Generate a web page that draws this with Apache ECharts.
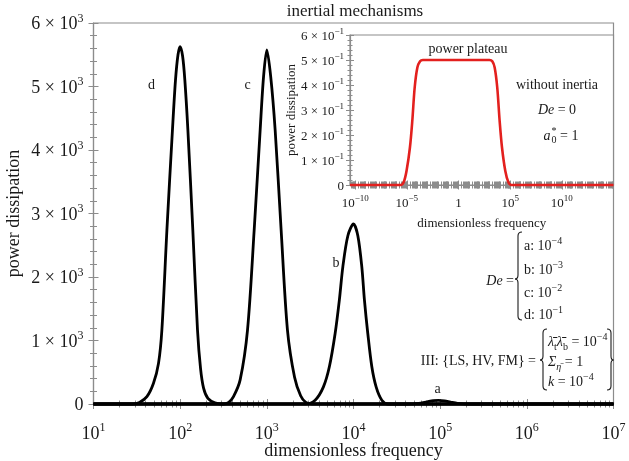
<!DOCTYPE html>
<html><head><meta charset="utf-8">
<script src="https://cdn.jsdelivr.net/npm/echarts@6/dist/echarts.min.js"></script>
<style>html,body{margin:0;padding:0;background:#fff}#c{width:629px;height:461px}</style>
</head><body><div id="c"></div>
<script>
// Main chart: x = log10(dimensionless frequency), y = power dissipation
const logF_a = [1.0, 4.6, 4.75, 4.85, 4.92, 4.98, 5.05, 5.12, 5.2, 5.35, 7.0];
const pow_a  = [0, 0, 10, 35, 52, 57, 50, 30, 10, 0, 0];
const logF_b = [1.0, 3.45, 3.557, 3.653, 3.722, 3.788, 3.837, 3.877, 3.935, 4.0, 4.05, 4.096, 4.126, 4.165, 4.211, 4.261, 4.327, 4.40, 7.0];
const pow_b  = [0, 0, 60, 270, 590, 1110, 1640, 2160, 2650, 2835, 2650, 2160, 1640, 1110, 590, 270, 60, 0, 0];
const logF_c = [1.0, 2.5, 2.56, 2.615, 2.692, 2.777, 2.854, 2.923, 2.962, 3.0, 3.045, 3.096, 3.165, 3.238, 3.32, 3.39, 3.45, 3.52, 7.0];
const pow_c  = [0, 0, 25, 115, 380, 1165, 2740, 4315, 5150, 5575, 5150, 4315, 2740, 1165, 420, 130, 25, 0, 0];
const logF_d = [1.0, 1.45, 1.53, 1.616, 1.692, 1.75, 1.789, 1.847, 1.911, 1.946, 1.975, 2.0, 2.028, 2.054, 2.089, 2.146, 2.2, 2.235, 2.27, 2.32, 2.40, 2.48, 7.0];
const pow_d  = [0, 0, 25, 115, 326, 640, 1165, 2740, 4315, 5100, 5500, 5627, 5480, 5100, 4315, 2740, 1165, 560, 250, 90, 20, 0, 0];
// Inset: without inertia
const logF_in = [-10.5, -5.6, -5.3, -5.03, -4.7, -4.47, -4.24, -3.98, -3.72, -3.45, 0, 3.0, 3.27, 3.5, 3.75, 3.98, 4.21, 4.53, 4.82, 5.12, 15];
const pow_in  = [0, 0, 0.012, 0.056, 0.15, 0.257, 0.39, 0.47, 0.495, 0.5, 0.5, 0.5, 0.495, 0.47, 0.39, 0.257, 0.15, 0.056, 0.012, 0, 0];
// Tick values / labels
const mainXTicks = [1, 2, 3, 4, 5, 6, 7];          // exponents of 10
const mainYTicks = [0, 1000, 2000, 3000, 4000, 5000, 6000];
const insetXTicks = [-10, -5, 0, 5, 10];
const insetYTicks = [0, 0.1, 0.2, 0.3, 0.4, 0.5, 0.6];
const curveLetters = ['a', 'b', 'c', 'd'];

const F = '"Liberation Serif", "Times New Roman", serif';
const TXT = '#1a1a1a';
const AX = '#8c8c8c';

function zip(xs, ys) { return xs.map((x, i) => [x, ys[i]]); }
function minorLog(lo, hi) {
  const out = [];
  for (let n = Math.floor(lo) - 1; n <= Math.ceil(hi); n++) {
    for (let k = 2; k <= 9; k++) { const v = n + Math.log10(k); if (v >= lo && v <= hi) out.push(v); }
  }
  return out;
}
function decades(lo, hi) { const o = []; for (let n = Math.ceil(lo); n <= hi; n++) o.push(n); return o; }
function linMinor(lo, hi, step, skip) {
  const o = []; const n = Math.round((hi - lo) / step);
  for (let i = 0; i <= n; i++) { const v = +(lo + i * step).toFixed(6); if (!skip.some(s => Math.abs(s - v) < 1e-9)) o.push(v); }
  return o;
}
function richSet(fs, ss) {
  return {
    b: { fontFamily: F, fontSize: fs, color: TXT, verticalAlign: 'bottom', lineHeight: fs + 3 },
    s: { fontFamily: F, fontSize: ss, color: TXT, verticalAlign: 'top', lineHeight: ss }
  };
}
function sup(n) { return n < 0 ? '\u2212' + (-n) : String(n); }

function axes(dim, gi, min, max, sets, main) {
  return sets.map((s, i) => {
    const a = {
      type: 'value', gridIndex: gi, min: min, max: max,
      position: dim === 'x' ? 'bottom' : 'left',
      splitLine: { show: false },
      axisLine: { show: i === 0, onZero: false, lineStyle: { color: AX, width: 1.2 } },
      axisTick: { show: true, customValues: s.vals, length: s.len, inside: s.inside, lineStyle: { color: AX, width: 1 } },
      axisLabel: { show: false }
    };
    if (i === 0 && main) {
      a.axisLabel = Object.assign({ show: true }, main.label);
      a.name = main.name.text;
      a.nameLocation = 'middle';
      a.nameGap = main.name.gap;
      a.nameMoveOverlap = false;
      a.nameTextStyle = { fontFamily: F, fontSize: main.name.size, color: TXT };
    }
    return a;
  });
}

const mX = axes('x', 0, 1, 7, [
  { vals: mainXTicks, len: 5, inside: false }, { vals: mainXTicks, len: 5, inside: true },
  { vals: minorLog(1, 7), len: 3.5, inside: false }, { vals: minorLog(1, 7), len: 3.5, inside: true }
], {
  label: { customValues: mainXTicks, margin: 18, rich: richSet(18, 12), formatter: v => '{b|10}{s|' + sup(v) + '}' },
  name: { text: 'dimensionless frequency', gap: 38, size: 18 }
});
const mY = axes('y', 0, 0, 6000, [
  { vals: mainYTicks, len: 5, inside: false }, { vals: mainYTicks, len: 5, inside: true },
  { vals: linMinor(0, 6000, 200, mainYTicks), len: 3.5, inside: false }, { vals: linMinor(0, 6000, 200, mainYTicks), len: 3.5, inside: true }
], {
  label: { customValues: mainYTicks, margin: 10, rich: richSet(18, 12), formatter: v => v === 0 ? '{b|0}' : '{b|' + (v / 1000) + ' \u00d7 10}{s|3}' },
  name: { text: 'power dissipation', gap: 70, size: 18 }
});
const iX = axes('x', 1, -10.5, 15, [
  { vals: insetXTicks, len: 4.5, inside: false }, { vals: insetXTicks, len: 4.5, inside: true },
  { vals: decades(-10.5, 15).concat(minorLog(-10.5, 15)), len: 3.5, inside: false }, { vals: decades(-10.5, 15).concat(minorLog(-10.5, 15)), len: 3.5, inside: true }
], {
  label: { customValues: insetXTicks, margin: 9, rich: richSet(13, 9), formatter: v => v === 0 ? '{b|1}' : '{b|10}{s|' + sup(v) + '}' },
  name: { text: 'dimensionless frequency', gap: 32, size: 13 }
});
const iY = axes('y', 1, 0, 0.6, [
  { vals: insetYTicks, len: 4, inside: false }, { vals: insetYTicks, len: 4, inside: true },
  { vals: linMinor(0, 0.6, 0.02, insetYTicks), len: 2.5, inside: false }, { vals: linMinor(0, 0.6, 0.02, insetYTicks), len: 2.5, inside: true }
], {
  label: { customValues: insetYTicks, margin: 6, rich: richSet(13, 9), formatter: v => v === 0 ? '{b|0}' : '{b|' + Math.round(v * 10) + ' \u00d7 10}{s|\u22121}' },
  name: { text: 'power dissipation', gap: 52, size: 13 }
});

function line(name, xs, ys, xi, color, w) {
  return {
    name: name, type: 'line', xAxisIndex: xi, yAxisIndex: xi, data: zip(xs, ys),
    showSymbol: false, smooth: 0.3, clip: false, animation: false,
    lineStyle: { color: color, width: w }, z: 5
  };
}

const T = (text, x, y, size, extra) => ({ type: 'text', x: x, y: y, z: 100,
  style: Object.assign({ text: text, fontFamily: F, fontSize: size, fill: TXT, align: 'center', verticalAlign: 'middle' }, extra || {}) });
const R = {
  n: { fontFamily: F, fontSize: 14, color: TXT, verticalAlign: 'bottom', lineHeight: 17 },
  i: { fontFamily: F, fontSize: 14, color: TXT, fontStyle: 'italic', verticalAlign: 'bottom', lineHeight: 17 },
  s: { fontFamily: F, fontSize: 10, color: TXT, verticalAlign: 'top', lineHeight: 10 },
  u: { fontFamily: F, fontSize: 10, color: TXT, verticalAlign: 'bottom', lineHeight: 10, padding: [0, 0, -3, 0] },
  ui: { fontFamily: F, fontSize: 10, color: TXT, fontStyle: 'italic', verticalAlign: 'bottom', lineHeight: 10, padding: [0, 0, -3, 0] }
};
const RT = (text, x, y, align) => ({ type: 'text', x: x, y: y, z: 100,
  style: { text: text, rich: R, align: align, verticalAlign: 'middle', fontFamily: F, fontSize: 14, fill: TXT } });
const ST = { stroke: TXT, lineWidth: 1.1, fill: null };
function brace(xo, xs, xt, y0, ym, y1) {
  const h = 4;
  return { type: 'group', z: 100, children: [
    { type: 'bezierCurve', shape: { x1: xo, y1: y0, cpx1: xs, cpy1: y0, x2: xs, y2: y0 + h }, style: ST },
    { type: 'line', shape: { x1: xs, y1: y0 + h, x2: xs, y2: ym - h }, style: ST },
    { type: 'bezierCurve', shape: { x1: xs, y1: ym - h, cpx1: xs, cpy1: ym, x2: xt, y2: ym }, style: ST },
    { type: 'bezierCurve', shape: { x1: xt, y1: ym, cpx1: xs, cpy1: ym, x2: xs, y2: ym + h }, style: ST },
    { type: 'line', shape: { x1: xs, y1: ym + h, x2: xs, y2: y1 - h }, style: ST },
    { type: 'bezierCurve', shape: { x1: xs, y1: y1 - h, cpx1: xs, cpy1: y1, x2: xo, y2: y1 }, style: ST }
  ] };
}

const chart = echarts.init(document.getElementById('c'), null, { renderer: 'canvas' });
chart.setOption({
  animation: false,
  backgroundColor: '#fff',
  grid: [
    { left: 93.5, top: 23, width: 520, height: 381, show: true, borderColor: AX, borderWidth: 1.2, backgroundColor: 'transparent', containLabel: false, outerBoundsMode: 'none' },
    { left: 350, top: 35, width: 263.5, height: 150, show: true, borderColor: AX, borderWidth: 1.2, backgroundColor: '#fff', containLabel: false, outerBoundsMode: 'none' }
  ],
  xAxis: mX.concat(iX),
  yAxis: mY.concat(iY),
  series: [
    line(curveLetters[0], logF_a, pow_a, 0, '#000', 2.8),
    line(curveLetters[1], logF_b, pow_b, 0, '#000', 2.8),
    line(curveLetters[2], logF_c, pow_c, 0, '#000', 2.8),
    line(curveLetters[3], logF_d, pow_d, 0, '#000', 2.8),
    line('without inertia', logF_in, pow_in, 4, '#e3201e', 2.6)
  ],
  graphic: [
    T('inertial mechanisms', 355, 12, 17),
    T('d', 151.5, 85, 14), T('c', 247.5, 85, 14), T('b', 336, 263, 14), T('a', 437.5, 389, 14),
    T('power plateau', 468, 49, 14),
    T('without inertia', 557, 85, 14),
    RT('{i|De} {n|= 0}', 557, 109, 'center'),
    T('a', 547, 136, 14, { fontStyle: 'italic' }),
    T('*', 554, 131, 10), T('0', 554, 140, 10),
    T('= 1', 560, 136, 14, { align: 'left' }),
    RT('{i|De} {n|=}', 514, 280, 'right'),
    brace(522, 518, 515, 232, 279, 320),
    RT('{n|a: 10}{s|\u22124}', 524, 245, 'left'),
    RT('{n|b: 10}{s|\u22123}', 524, 269, 'left'),
    RT('{n|c: 10}{s|\u22122}', 524, 292, 'left'),
    RT('{n|d: 10}{s|\u22121}', 524, 314, 'left'),
    T('III: {LS, HV, FM} =', 536, 361, 14, { align: 'right' }),
    brace(547, 543, 540, 329, 360, 390),
    RT('{i|\u03bb\u0304}{u|t}{i|\u03bb\u0304}{u|b}{n| = 10}{s|\u22124}', 548, 341, 'left'),
    RT('{i|\u03a3}{ui|\u03b7\u0304}{n| = 1}', 548, 361, 'left'),
    RT('{i|k}{n| = 10}{s|\u22124}', 548, 381, 'left'),
    brace(607, 611, 613.5, 329, 360, 390)
  ]
});
</script>
</body></html>
